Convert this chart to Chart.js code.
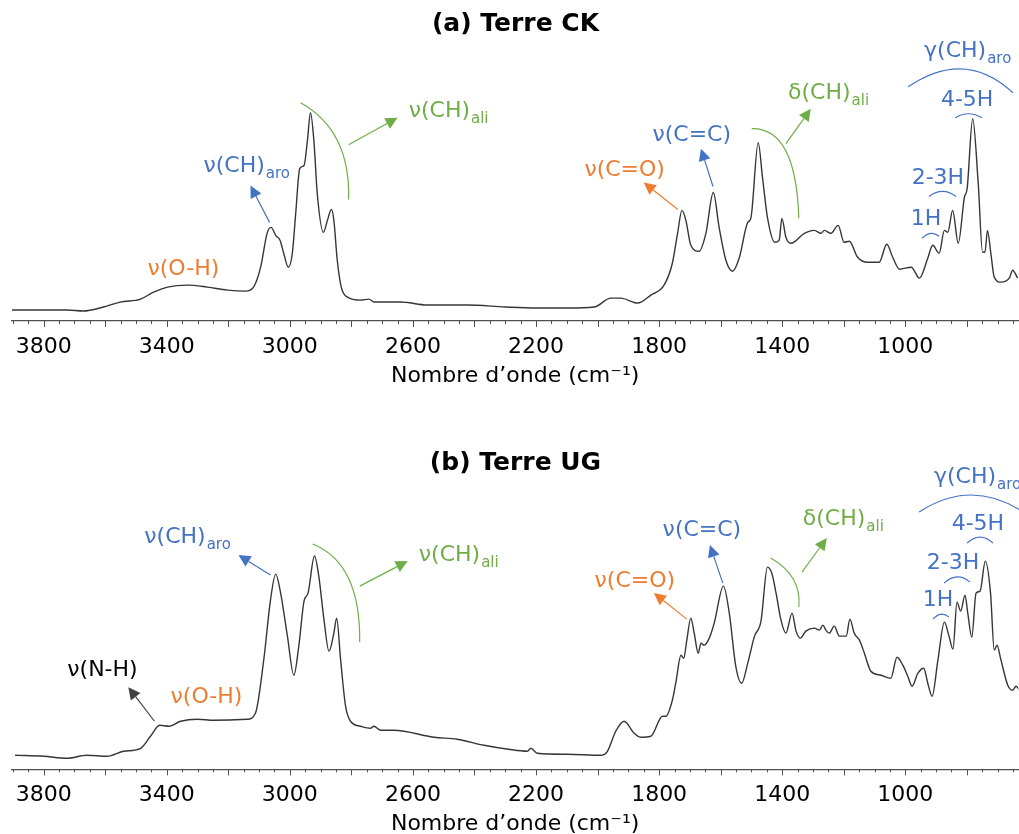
<!DOCTYPE html>
<html>
<head>
<meta charset="utf-8">
<script src="https://cdn.jsdelivr.net/npm/chart.js@4.4.1/dist/chart.umd.min.js"></script>
<style>
  body { margin: 0; background: #fff; }
  canvas { display: block; }
</style>
</head>
<body>
<canvas id="chartCK" width="1019" height="400"></canvas>
<canvas id="chartUG" width="1019" height="434"></canvas>
<script>
// spectrum (a) Terre CK : wavenumber (cm-1) and absorbance (a.u.)
const wnCK = [3903, 3724, 3671, 3606, 3551, 3485, 3443, 3398, 3333, 3268, 3203, 3144, 3118, 3095, 3074, 3061,
  3046, 3032, 3020, 3005, 2992, 2981, 2968, 2954, 2943, 2933, 2922, 2911, 2891, 2878, 2865, 2857, 2846, 2833,
  2813, 2770, 2743, 2727, 2640, 2553, 2423, 2300, 2200, 2098, 2011, 1957, 1925, 1870, 1827, 1784, 1757, 1740,
  1726, 1713, 1697, 1670, 1648, 1624, 1605, 1583, 1561, 1539, 1512, 1502, 1478, 1464, 1448, 1424, 1410, 1401,
  1388, 1372, 1328, 1296, 1274, 1263, 1242, 1218, 1199, 1182, 1155, 1122, 1085, 1060, 1041, 1019, 981, 954,
  927, 911, 890, 873, 862, 846, 828, 808, 799, 781, 763, 749, 741, 733, 722, 711, 689, 662, 651, 635];
const absCK = [0.11, 0.11, 0.10, 0.14, 0.19, 0.22, 0.29, 0.34, 0.36, 0.34, 0.31, 0.30, 0.34, 0.54, 0.88, 0.94,
  0.86, 0.81, 0.68, 0.54, 0.68, 1.08, 1.53, 1.56, 1.81, 2.09, 1.81, 1.28, 0.89, 1.01, 1.12, 1.01, 0.61, 0.34,
  0.24, 0.21, 0.22, 0.19, 0.19, 0.16, 0.16, 0.14, 0.13, 0.13, 0.14, 0.23, 0.23, 0.18, 0.26, 0.36, 0.58, 0.88,
  1.11, 1.01, 0.76, 0.70, 0.88, 1.29, 0.94, 0.61, 0.50, 0.64, 0.99, 1.03, 1.79, 1.44, 1.04, 0.79, 0.81, 1.03,
  0.84, 0.78, 0.88, 0.91, 0.88, 0.91, 0.88, 0.96, 0.79, 0.80, 0.64, 0.59, 0.59, 0.77, 0.64, 0.52, 0.54, 0.43,
  0.63, 0.76, 0.68, 0.91, 0.89, 1.11, 0.78, 1.24, 1.33, 2.03, 1.38, 0.69, 0.69, 0.91, 0.68, 0.44, 0.39, 0.43, 0.51, 0.43];

// spectrum (b) Terre UG
const wnUG = [3893, 3800, 3724, 3659, 3594, 3540, 3485, 3453, 3423, 3393, 3355, 3301, 3247, 3139, 3112, 3085,
  3063, 3046, 3030, 3008, 2987, 2971, 2954, 2941, 2920, 2906, 2889, 2873, 2857, 2848, 2835, 2819, 2803, 2770,
  2738, 2727, 2705, 2662, 2532, 2456, 2369, 2290, 2228, 2217, 2196, 2098, 1990, 1968, 1941, 1914, 1881, 1860,
  1827, 1789, 1778, 1757, 1746, 1729, 1720, 1710, 1697, 1686, 1673, 1664, 1654, 1637, 1621, 1591, 1572, 1551,
  1532, 1512, 1490, 1469, 1448, 1434, 1420, 1404, 1388, 1368, 1355, 1341, 1323, 1296, 1279, 1268, 1258, 1247,
  1231, 1214, 1192, 1180, 1166, 1149, 1133, 1112, 1079, 1047, 1027, 1008, 992, 978, 959, 940, 927, 913, 894,
  873, 858, 845, 832, 820, 806, 797, 784, 770, 757, 740, 723, 711, 702, 689, 667, 651, 640, 627];
const absUG = [0.14, 0.13, 0.11, 0.14, 0.13, 0.18, 0.21, 0.33, 0.44, 0.43, 0.48, 0.50, 0.49, 0.50, 0.56, 1.09,
  1.69, 1.95, 1.76, 1.33, 0.94, 1.23, 1.68, 1.76, 2.13, 1.93, 1.49, 1.18, 1.36, 1.51, 1.09, 0.63, 0.48, 0.43,
  0.41, 0.43, 0.39, 0.39, 0.32, 0.30, 0.24, 0.20, 0.18, 0.21, 0.16, 0.15, 0.14, 0.18, 0.38, 0.48, 0.36, 0.32,
  0.33, 0.53, 0.53, 0.69, 0.86, 1.14, 1.11, 1.29, 1.51, 1.36, 1.16, 1.26, 1.24, 1.31, 1.46, 1.83, 1.56, 1.03,
  0.86, 1.06, 1.33, 1.48, 2.02, 1.96, 1.76, 1.49, 1.36, 1.56, 1.38, 1.31, 1.38, 1.41, 1.39, 1.44, 1.39, 1.36,
  1.43, 1.33, 1.33, 1.50, 1.36, 1.29, 1.16, 0.98, 0.94, 0.91, 1.12, 1.04, 0.93, 0.83, 0.96, 1.01, 0.86, 0.73, 1.09,
  1.47, 1.33, 1.20, 1.67, 1.58, 1.74, 1.56, 1.32, 1.76, 1.78, 2.08, 1.76, 1.19, 1.24, 1.09, 0.84, 0.79, 0.83, 0.78];

const xMin = 633;
const xMax = 3903;
const tickLabels = [3800, 3400, 3000, 2600, 2200, 1800, 1400, 1000];

const FONT = '"DejaVu Sans", sans-serif';
const ORANGE = '#ED7D31';
const BLUE = '#4472C4';
const GREEN = '#70AD47';
const AXIS = '#505050';

// band assignments, placed in data coordinates
const notesCK = [
  { type: 'text', x: 3346, y: 0.54, text: 'ν(O-H)', color: ORANGE, align: 'center' },
  { type: 'text', x: 3281, y: 1.58, text: 'ν(CH)', sub: 'aro', color: BLUE, align: 'left' },
  { type: 'arrow', x1: 3066, y1: 0.99, x2: 3128, y2: 1.36, color: BLUE },
  { type: 'text', x: 2614, y: 2.13, text: 'ν(CH)', sub: 'ali', color: GREEN, align: 'left' },
  { type: 'arrow', x1: 2809, y1: 1.77, x2: 2650, y2: 2.04, color: GREEN },
  { type: 'curve', x1: 2965, y1: 2.19, cx: 2803, cy: 1.91, x2: 2809, y2: 1.22, color: GREEN },
  { type: 'text', x: 1912, y: 1.54, text: 'ν(C=O)', color: ORANGE, align: 'center' },
  { type: 'arrow', x1: 1739, y1: 1.12, x2: 1850, y2: 1.39, color: ORANGE },
  { type: 'text', x: 1694, y: 1.89, text: 'ν(C=C)', color: BLUE, align: 'center' },
  { type: 'arrow', x1: 1625, y1: 1.35, x2: 1664, y2: 1.73, color: BLUE },
  { type: 'text', x: 1381, y: 2.31, text: 'δ(CH)', sub: 'ali', color: GREEN, align: 'left' },
  { type: 'arrow', x1: 1388, y1: 1.78, x2: 1307, y2: 2.13, color: GREEN },
  { type: 'curve', x1: 1499, y1: 1.93, cx: 1355, cy: 1.94, x2: 1346, y2: 1.03, color: GREEN },
  { type: 'text', x: 939, y: 2.73, text: 'γ(CH)', sub: 'aro', color: BLUE, align: 'left' },
  { type: 'curve', x1: 991, y1: 2.35, cx: 806, cy: 2.74, x2: 650, y2: 2.29, color: BLUE },
  { type: 'text', x: 799, y: 2.24, text: '4-5H', color: BLUE, align: 'center' },
  { type: 'curve', x1: 838, y1: 2.04, cx: 795, cy: 2.12, x2: 751, y2: 2.04, color: BLUE },
  { type: 'text', x: 894, y: 1.46, text: '2-3H', color: BLUE, align: 'center' },
  { type: 'curve', x1: 923, y1: 1.25, cx: 879, cy: 1.35, x2: 835, y2: 1.25, color: BLUE },
  { type: 'text', x: 933, y: 1.04, text: '1H', color: BLUE, align: 'center' },
  { type: 'curve', x1: 946, y1: 0.83, cx: 918, cy: 0.92, x2: 890, y2: 0.85, color: BLUE }
];

const notesUG = [
  { type: 'text', x: 3609, y: 1.01, text: 'ν(N-H)', color: '#000', align: 'center' },
  { type: 'arrow', x1: 3440, y1: 0.48, x2: 3525, y2: 0.82, color: '#404040' },
  { type: 'text', x: 3271, y: 0.74, text: 'ν(O-H)', color: ORANGE, align: 'center' },
  { type: 'text', x: 3473, y: 2.34, text: 'ν(CH)', sub: 'aro', color: BLUE, align: 'left' },
  { type: 'arrow', x1: 3063, y1: 1.94, x2: 3167, y2: 2.14, color: BLUE },
  { type: 'text', x: 2581, y: 2.16, text: 'ν(CH)', sub: 'ali', color: GREEN, align: 'left' },
  { type: 'arrow', x1: 2773, y1: 1.83, x2: 2617, y2: 2.08, color: GREEN },
  { type: 'curve', x1: 2926, y1: 2.25, cx: 2770, cy: 2.06, x2: 2773, y2: 1.27, color: GREEN },
  { type: 'text', x: 1879, y: 1.90, text: 'ν(C=O)', color: ORANGE, align: 'center' },
  { type: 'arrow', x1: 1710, y1: 1.50, x2: 1817, y2: 1.76, color: ORANGE },
  { type: 'text', x: 1661, y: 2.41, text: 'ν(C=C)', color: BLUE, align: 'center' },
  { type: 'arrow', x1: 1593, y1: 1.86, x2: 1635, y2: 2.24, color: BLUE },
  { type: 'text', x: 1333, y: 2.52, text: 'δ(CH)', sub: 'ali', color: GREEN, align: 'left' },
  { type: 'arrow', x1: 1336, y1: 1.97, x2: 1255, y2: 2.31, color: GREEN },
  { type: 'curve', x1: 1437, y1: 2.11, cx: 1336, cy: 1.93, x2: 1346, y2: 1.62, color: GREEN },
  { type: 'text', x: 907, y: 2.94, text: 'γ(CH)', sub: 'aro', color: BLUE, align: 'left' },
  { type: 'curve', x1: 955, y1: 2.57, cx: 786, cy: 2.91, x2: 617, y2: 2.57, color: BLUE },
  { type: 'text', x: 764, y: 2.47, text: '4-5H', color: BLUE, align: 'center' },
  { type: 'curve', x1: 799, y1: 2.26, cx: 757, cy: 2.38, x2: 715, y2: 2.26, color: BLUE },
  { type: 'text', x: 845, y: 2.08, text: '2-3H', color: BLUE, align: 'center' },
  { type: 'curve', x1: 874, y1: 1.86, cx: 832, cy: 1.98, x2: 790, y2: 1.87, color: BLUE },
  { type: 'text', x: 894, y: 1.71, text: '1H', color: BLUE, align: 'center' },
  { type: 'curve', x1: 910, y1: 1.50, cx: 884, cy: 1.59, x2: 858, y2: 1.52, color: BLUE }
];

// draws tick marks, labels, arrows and brackets through the chart scales
const bandNotes = {
  id: 'bandNotes',
  afterDraw(chart, args, opts) {
    const { ctx } = chart;
    const xs = chart.scales.x;
    const ys = chart.scales.y;

    // short ticks every 50 cm-1, longer every 200 cm-1
    ctx.save();
    ctx.strokeStyle = AXIS;
    ctx.lineWidth = 1;
    const base = chart.chartArea.bottom;
    xs.ticks.forEach(t => {
      const px = Math.round(xs.getPixelForValue(t.value)) + 0.5;
      ctx.beginPath();
      ctx.moveTo(px, base);
      ctx.lineTo(px, base + (t.value % 200 === 0 ? 6 : 3));
      ctx.stroke();
    });
    ctx.restore();

    (opts.notes || []).forEach(n => {
      ctx.save();
      ctx.strokeStyle = n.color;
      ctx.fillStyle = n.color;
      ctx.lineWidth = 1.2;
      if (n.type === 'text') {
        const px = xs.getPixelForValue(n.x);
        const py = ys.getPixelForValue(n.y) + 8;
        ctx.font = '22px ' + FONT;
        ctx.textBaseline = 'alphabetic';
        ctx.textAlign = n.align;
        ctx.fillText(n.text, px, py);
        if (n.sub) {
          const w = ctx.measureText(n.text).width;
          ctx.font = '15px ' + FONT;
          ctx.textAlign = 'left';
          ctx.fillText(n.sub, px + w + 1, py + 6);
        }
      } else if (n.type === 'arrow') {
        const x1 = xs.getPixelForValue(n.x1), y1 = ys.getPixelForValue(n.y1);
        const x2 = xs.getPixelForValue(n.x2), y2 = ys.getPixelForValue(n.y2);
        const a = Math.atan2(y2 - y1, x2 - x1);
        const L = 12, W = 6;
        const bx = x2 - L * Math.cos(a), by = y2 - L * Math.sin(a);
        ctx.beginPath();
        ctx.moveTo(x1, y1);
        ctx.lineTo(bx, by);
        ctx.stroke();
        ctx.beginPath();
        ctx.moveTo(x2, y2);
        ctx.lineTo(bx + W * Math.sin(a), by - W * Math.cos(a));
        ctx.lineTo(bx - W * Math.sin(a), by + W * Math.cos(a));
        ctx.closePath();
        ctx.fill();
      } else if (n.type === 'curve') {
        ctx.beginPath();
        ctx.moveTo(xs.getPixelForValue(n.x1), ys.getPixelForValue(n.y1));
        ctx.quadraticCurveTo(xs.getPixelForValue(n.cx), ys.getPixelForValue(n.cy),
          xs.getPixelForValue(n.x2), ys.getPixelForValue(n.y2));
        ctx.stroke();
      }
      ctx.restore();
    });
  }
};

function drawSpectrum(id, title, wn, abs, cfg) {
  const ctx = document.getElementById(id).getContext('2d');
  return new Chart(ctx, {
    type: 'line',
    data: {
      datasets: [{
        data: wn.map((x, i) => ({ x: x, y: abs[i] })),
        borderColor: '#363636',
        borderWidth: 1.4,
        pointRadius: 0,
        cubicInterpolationMode: 'monotone',
        fill: false
      }]
    },
    options: {
      responsive: false,
      animation: false,
      layout: { padding: { left: 12, right: 0, top: 0, bottom: 0 } },
      plugins: {
        legend: { display: false },
        tooltip: { enabled: false },
        title: {
          display: true,
          text: title,
          color: '#000',
          font: { family: FONT, size: 25, weight: 'bold', lineHeight: 1.2 },
          padding: { top: cfg.titleTop, bottom: 12 }
        },
        bandNotes: { notes: cfg.notes }
      },
      scales: {
        x: {
          type: 'linear',
          reverse: true,
          min: xMin,
          max: xMax,
          afterFit: s => { s.height = cfg.axisHeight; },
          border: { display: true, color: AXIS, width: 1.3 },
          grid: { display: true, drawOnChartArea: false, drawTicks: true, tickLength: 7, tickColor: 'rgba(0,0,0,0)' },
          ticks: {
            stepSize: 50,
            includeBounds: false,
            autoSkip: false,
            maxRotation: 0,
            padding: 6,
            color: '#000',
            font: { family: FONT, size: 22 },
            callback: v => (tickLabels.includes(v) ? String(v) : '')
          },
          title: {
            display: true,
            text: 'Nombre d’onde (cm⁻¹)',
            color: '#000',
            font: { family: FONT, size: 22, lineHeight: 1.2 },
            padding: { top: 0, bottom: cfg.axisTitlePad }
          }
        },
        y: { display: false, min: 0, max: cfg.yMax }
      }
    },
    plugins: [bandNotes]
  });
}

drawSpectrum('chartCK', '(a) Terre CK', wnCK, absCK,
  { titleTop: 9, axisHeight: 79, axisTitlePad: 11, yMax: 2.71, notes: notesCK });
drawSpectrum('chartUG', '(b) Terre UG', wnUG, absUG,
  { titleTop: 48, axisHeight: 64.7, axisTitlePad: -3, yMax: 2.79, notes: notesUG });
</script>
</body>
</html>
